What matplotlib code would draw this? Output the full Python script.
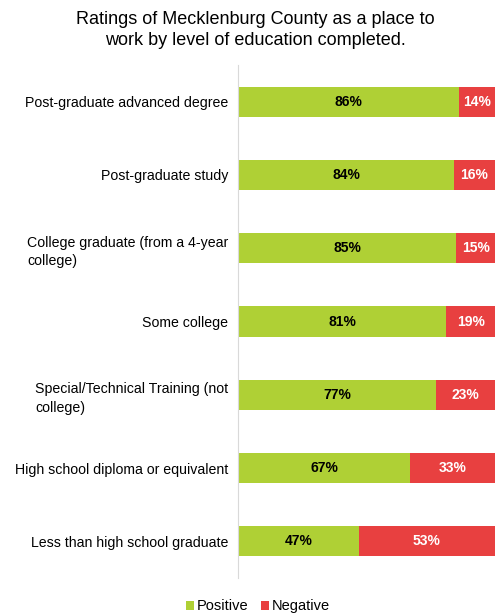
import matplotlib.pyplot as plt

plt.rcParams['font.family'] = ['Liberation Sans', 'DejaVu Sans']

categories = [
    "Post-graduate advanced degree",
    "Post-graduate study",
    "College graduate (from a 4-year\ncollege)",
    "Some college",
    "Special/Technical Training (not\ncollege)",
    "High school diploma or equivalent",
    "Less than high school graduate",
]
positive = [86, 84, 85, 81, 77, 67, 47]
negative = [14, 16, 15, 19, 23, 33, 53]

green = "#AFD035"
red = "#E84040"

fig = plt.figure(figsize=(4.98, 6.13), dpi=100)
ax = fig.add_axes([0.478, 0.057, 0.516, 0.837])

y = list(range(len(categories)))
ax.barh(y, positive, height=0.41, color=green, label="Positive")
ax.barh(y, negative, left=positive, height=0.41, color=red, label="Negative")

for i in y:
    ax.text(positive[i] / 2, i, f"{positive[i]}%", ha='center', va='center',
            fontsize=10, fontweight='bold', color='black')
    ax.text(positive[i] + negative[i] / 2, i, f"{negative[i]}%", ha='center', va='center',
            fontsize=10, fontweight='bold', color='white')

ax.set_xlim(0, 100)
ax.set_ylim(len(categories) - 0.5, -0.5)
ax.set_yticks(y)
ax.set_yticklabels(categories, fontsize=10.2, multialignment='left', linespacing=1.4)
ax.tick_params(axis='y', length=0, pad=7)
ax.set_xticks([])
for s in ['top', 'right', 'bottom']:
    ax.spines[s].set_visible(False)
ax.spines['left'].set_color('#D9D9D9')

fig.suptitle("Ratings of Mecklenburg County as a place to\nwork by level of education completed.",
             fontsize=13, y=0.982, x=0.513, linespacing=1.3)

fig.legend(loc='lower center', ncol=2, bbox_to_anchor=(0.518, -0.022), frameon=False,
           fontsize=10.5, handlelength=0.55, handleheight=0.55, handletextpad=0.15, columnspacing=0.9)

fig.savefig("out.png", dpi=100)
